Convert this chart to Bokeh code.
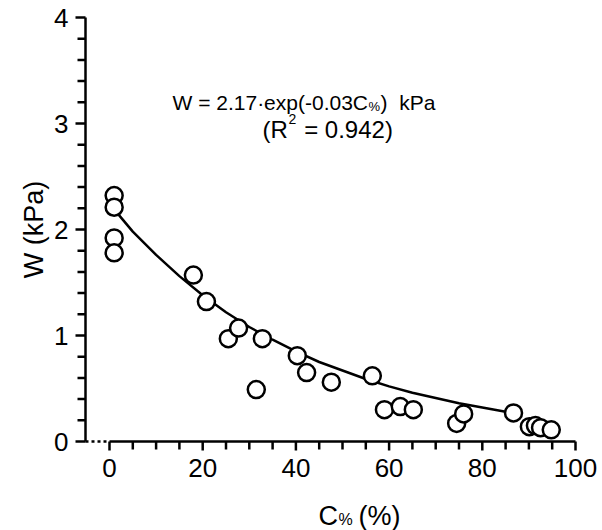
import math
from bokeh.plotting import figure
from bokeh.models import Range1d
from bokeh.core.properties import value
from bokeh.embed import file_html
from bokeh.resources import INLINE

# ---- data ----
cover_pct = [1.0, 1.0, 1.0, 1.0, 18.0, 20.8, 25.5, 27.7, 31.5, 32.8, 40.3, 42.3,
             47.6, 56.4, 59.0, 62.4, 65.2, 74.5, 76.0, 86.7, 90.1, 91.4, 92.5, 94.8]
w_kpa = [2.32, 2.21, 1.92, 1.78, 1.57, 1.32, 0.97, 1.07, 0.49, 0.97, 0.81, 0.65,
         0.56, 0.62, 0.30, 0.33, 0.30, 0.17, 0.26, 0.27, 0.14, 0.15, 0.13, 0.11]

# fitted curve as drawn in the picture
fit_x = [1, 5, 10, 15, 20, 25, 30, 35, 40, 45, 50, 55, 60, 65, 70, 75, 80, 85, 88]
fit_y = [2.19, 1.98, 1.76, 1.56, 1.38, 1.22, 1.08, 0.96, 0.85, 0.75, 0.67, 0.59,
         0.52, 0.46, 0.41, 0.36, 0.32, 0.28, 0.26]

x_major = [0, 20, 40, 60, 80, 100]
x_minor = [5, 10, 15, 25, 30, 35, 45, 50, 55, 65, 70, 75, 85, 90, 95]
y_major = [0, 1, 2, 3, 4]
y_minor = [0.2, 0.4, 0.6, 0.8, 1.2, 1.4, 1.6, 1.8, 2.2, 2.4, 2.6, 2.8, 3.2, 3.4, 3.6, 3.8]
x_tick_labels = ["0", "20", "40", "60", "80", "100"]
y_tick_labels = ["0", "1", "2", "3", "4"]

FONT = "Liberation Sans"
W, H = 602, 530
# pixel placement of the axes
PX_X0, PX_X100 = 109, 575
PY_Y0, PY_Y4 = 441, 17
PX_YAXIS = 85
SX = (PX_X100 - PX_X0) / 100.0
SY = (PY_Y0 - PY_Y4) / 4.0
XS = -PX_X0 / SX
XE = XS + W / SX
YE = 4 + PY_Y4 / SY
YS = YE - H / SY


def dx(px):
    return XS + px / SX


def dy(py):
    return YE - py / SY


p = figure(width=W, height=H, x_range=Range1d(XS, XE), y_range=Range1d(YS, YE),
           output_backend="svg", toolbar_location=None, x_axis_type=None, y_axis_type=None,
           min_border_left=0, min_border_right=0, min_border_top=0, min_border_bottom=0)
p.outline_line_color = None
p.grid.visible = False
p.background_fill_color = "white"
p.border_fill_color = "white"

LW = 2.5
xa = dx(PX_YAXIS)

# y axis: line, ticks (major longer), labels
p.segment(x0=[xa], y0=[0], x1=[xa], y1=[4], line_color="black", line_width=LW)
p.segment(x0=[xa] * len(y_minor), y0=y_minor, x1=[xa - 8 / SX] * len(y_minor), y1=y_minor,
          line_color="black", line_width=LW)
p.segment(x0=[xa] * len(y_major), y0=y_major, x1=[xa - 10 / SX] * len(y_major), y1=y_major,
          line_color="black", line_width=LW)
p.text(x=[xa - 17 / SX] * len(y_major), y=y_major, text=y_tick_labels,
       text_font=value(FONT), text_font_size="26px", text_color="black",
       text_align="right", text_baseline="middle")

# x axis: line, ticks, labels
p.segment(x0=[0], y0=[0], x1=[100], y1=[0], line_color="black", line_width=LW)
p.segment(x0=x_minor, y0=[0] * len(x_minor), x1=x_minor, y1=[-8 / SY] * len(x_minor),
          line_color="black", line_width=LW)
p.segment(x0=x_major, y0=[0] * len(x_major), x1=x_major, y1=[-9 / SY] * len(x_major),
          line_color="black", line_width=LW)
p.text(x=x_major, y=[-17 / SY] * len(x_major), text=x_tick_labels,
       text_font=value(FONT), text_font_size="26px", text_color="black",
       text_align="center", text_baseline="top")

# small dotted link between the two axes
p.segment(x0=[xa], y0=[0], x1=[0], y1=[0], line_color="black", line_width=LW, line_dash="3 3")

# axis titles
p.text(x=[dx(33)], y=[2.0], text=["W (kPa)"], angle=math.pi / 2,
       text_font=value(FONT), text_font_size="27px", text_color="black",
       text_align="center", text_baseline="middle")
p.text(x=[dx(318)], y=[dy(515)], text=["C"], text_font=value(FONT), text_font_size="27px",
       text_color="black", text_baseline="alphabetic")
p.text(x=[dx(338)], y=[dy(519)], text=["%"], text_font=value(FONT), text_font_size="16px",
       text_color="black", text_baseline="alphabetic")
p.text(x=[dx(358)], y=[dy(515)], text=["(%)"], text_font=value(FONT), text_font_size="27px",
       text_color="black", text_baseline="alphabetic")

# fit line and points
p.line(fit_x, fit_y, line_color="black", line_width=LW)
p.scatter(cover_pct, w_kpa, size=17, marker="circle", fill_color="white",
          line_color="black", line_width=LW)

# equation annotation
NB = "\u00a0"


def txt(s, px, py, size):
    p.text(x=[dx(px)], y=[dy(py)], text=[s], text_font=value(FONT), text_font_size=size,
           text_color="black", text_baseline="alphabetic", text_align="left")


txt("W = 2.17\u00b7exp(-0.03C", 172, 102, "21px")
txt("%", 368, 106, "13px")
txt(")" + NB + NB + "kPa", 380, 102, "21px")
txt("(R", 262, 129, "24px")
txt("2", 288, 118, "14px")
txt(NB + "= 0.942)", 297, 129, "24px")

open("out.html", "w").write(file_html(p, INLINE))
